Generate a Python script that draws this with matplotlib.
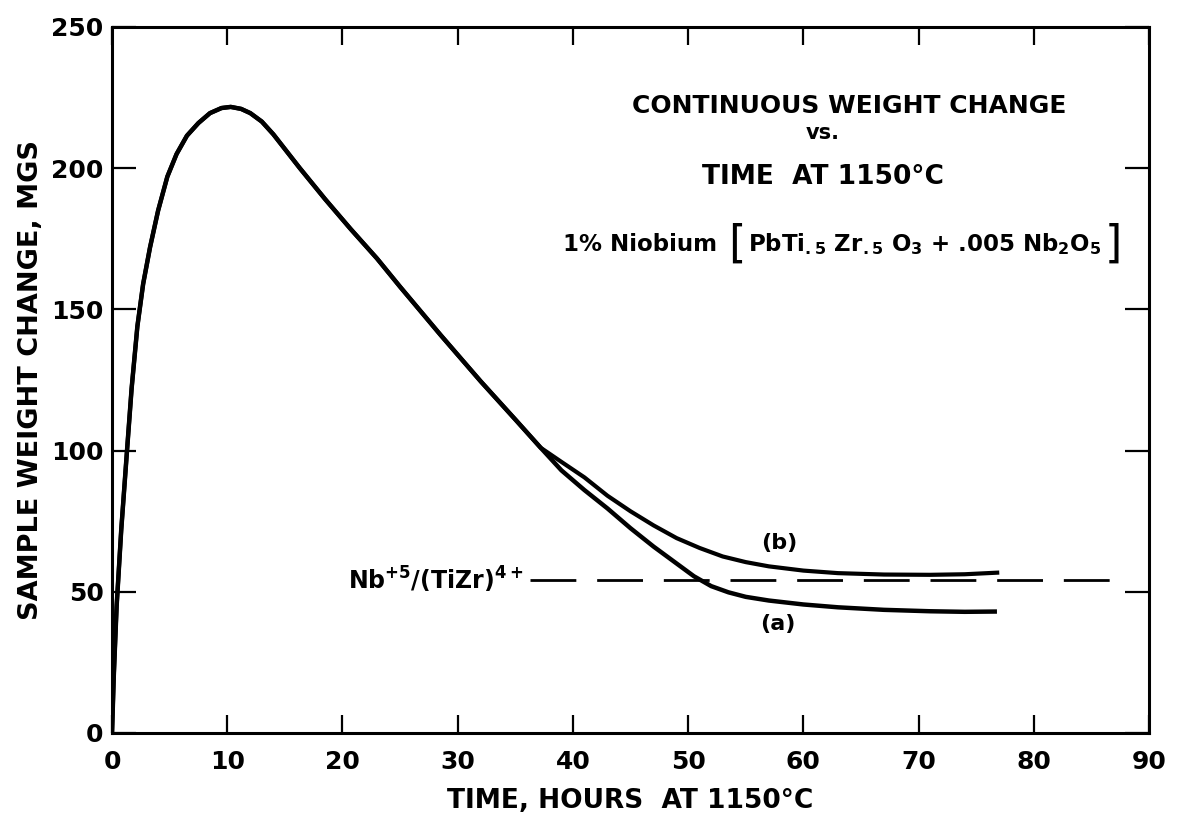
import matplotlib
matplotlib.use("Agg")
import matplotlib.pyplot as plt
from matplotlib.offsetbox import TextArea, HPacker, AnnotationBbox

# shared part of both runs: heating up to the peak and the common decline
hours_common = [0, 0.15, 0.4, 0.8, 1.3, 1.7, 2.2, 2.7, 3.3, 4.0, 4.8, 5.6, 6.5,
                7.5, 8.5, 9.5, 10.3, 11.2, 12, 13, 14, 16.3, 18.5, 20.7, 23,
                25, 28.5, 32, 35, 37.2]
weight_common = [0, 20, 45, 72, 100, 122, 144, 159, 172, 185, 197, 205, 211.5,
                 216, 219.5, 221.3, 221.7, 221, 219.5, 216.5, 212, 200, 189,
                 178.5, 168, 158, 141, 124.5, 111, 101]

# run (a)
hours_a = [39, 41, 43, 45, 47, 49, 50.5, 52, 53.5, 55, 57, 60, 63, 67, 71, 74, 76.8]
weight_a = [93, 86, 79.5, 72.5, 66, 60, 55.5, 52, 49.8, 48.2, 46.9, 45.5, 44.5,
            43.6, 43.1, 42.9, 43]

# run (b)
hours_b = [39, 41, 43, 45, 47, 49, 51, 53, 55, 57, 60, 63, 67, 71, 74, 77]
weight_b = [96, 90.5, 84, 78.5, 73.5, 69, 65.5, 62.5, 60.5, 59, 57.5, 56.6,
            56.1, 56, 56.2, 56.8]

# Nb+5/(TiZr)4+ level
ratio_x = [36.3, 88]
ratio_y = [54, 54]

x_ticks = [0, 10, 20, 30, 40, 50, 60, 70, 80, 90]
y_ticks = [0, 50, 100, 150, 200, 250]

plt.rcParams['font.family'] = ['DejaVu Sans']
plt.rcParams['font.weight'] = 'bold'
plt.rcParams['mathtext.fontset'] = 'dejavusans'
plt.rcParams['lines.scale_dashes'] = False

fig = plt.figure(figsize=(11.83, 8.23), dpi=100)
ax = fig.add_axes([0.0947, 0.1094, 0.8766, 0.8578])

xa = hours_common + hours_a
ya = weight_common + weight_a
xb = hours_common + hours_b
yb = weight_common + weight_b
ax.plot(xa, ya, color='black', lw=3.2, solid_capstyle='butt')
ax.plot(xb, yb, color='black', lw=3.0, solid_capstyle='butt')
ax.plot(ratio_x, ratio_y, color='black', lw=2.0, dashes=(33, 15))

ax.set_xlim(0, 90)
ax.set_ylim(0, 250)
ax.set_xticks(x_ticks)
ax.set_yticks(y_ticks)
ax.tick_params(axis='x', direction='in', length=13, width=1.6, top=True,
               labelsize=18, pad=12)
ax.tick_params(axis='y', direction='in', length=17, width=1.6, right=True,
               labelsize=18, pad=6)
for s in ax.spines.values():
    s.set_linewidth(2.2)

ax.set_xlabel('TIME, HOURS  AT 1150°C', fontsize=19, fontweight='bold', labelpad=10)
ax.set_ylabel('SAMPLE WEIGHT CHANGE, MGS', fontsize=19.5, fontweight='bold', labelpad=5)

ax.text(64.0, 222, 'CONTINUOUS WEIGHT CHANGE', fontsize=18, ha='center', va='center')
ax.text(61.7, 212.5, 'vs.', fontsize=15, ha='center', va='center')
ax.text(61.7, 197, 'TIME  AT 1150°C', fontsize=19, ha='center', va='center')

# formula line with tall brackets
sub = dict(fontsize=16.5, fontweight='bold')
parts = [
    TextArea('1% Niobium ', textprops=sub),
    TextArea('[', textprops=dict(fontsize=32, fontweight='normal')),
    TextArea(r'PbTi$_{\mathbf{.5}}$ Zr$_{\mathbf{.5}}$ O$_{\mathbf{3}}$ + .005 Nb$_{\mathbf{2}}$O$_{\mathbf{5}}$',
             textprops=sub),
    TextArea(']', textprops=dict(fontsize=32, fontweight='normal')),
]
formula = HPacker(children=parts, align='center', pad=0, sep=2)
ab = AnnotationBbox(formula, (63.4, 173), xycoords='data', frameon=False,
                    box_alignment=(0.5, 0.5))
ax.add_artist(ab)

ax.text(35.7, 50.6, r'Nb$^{\mathbf{+5}}$/(TiZr)$^{\mathbf{4+}}$', fontsize=17,
        ha='right', va='baseline')
ax.text(57.9, 67.3, '(b)', fontsize=16, ha='center', va='center')
ax.text(57.8, 38.5, '(a)', fontsize=16, ha='center', va='center')

fig.savefig('out.png', dpi=100)
